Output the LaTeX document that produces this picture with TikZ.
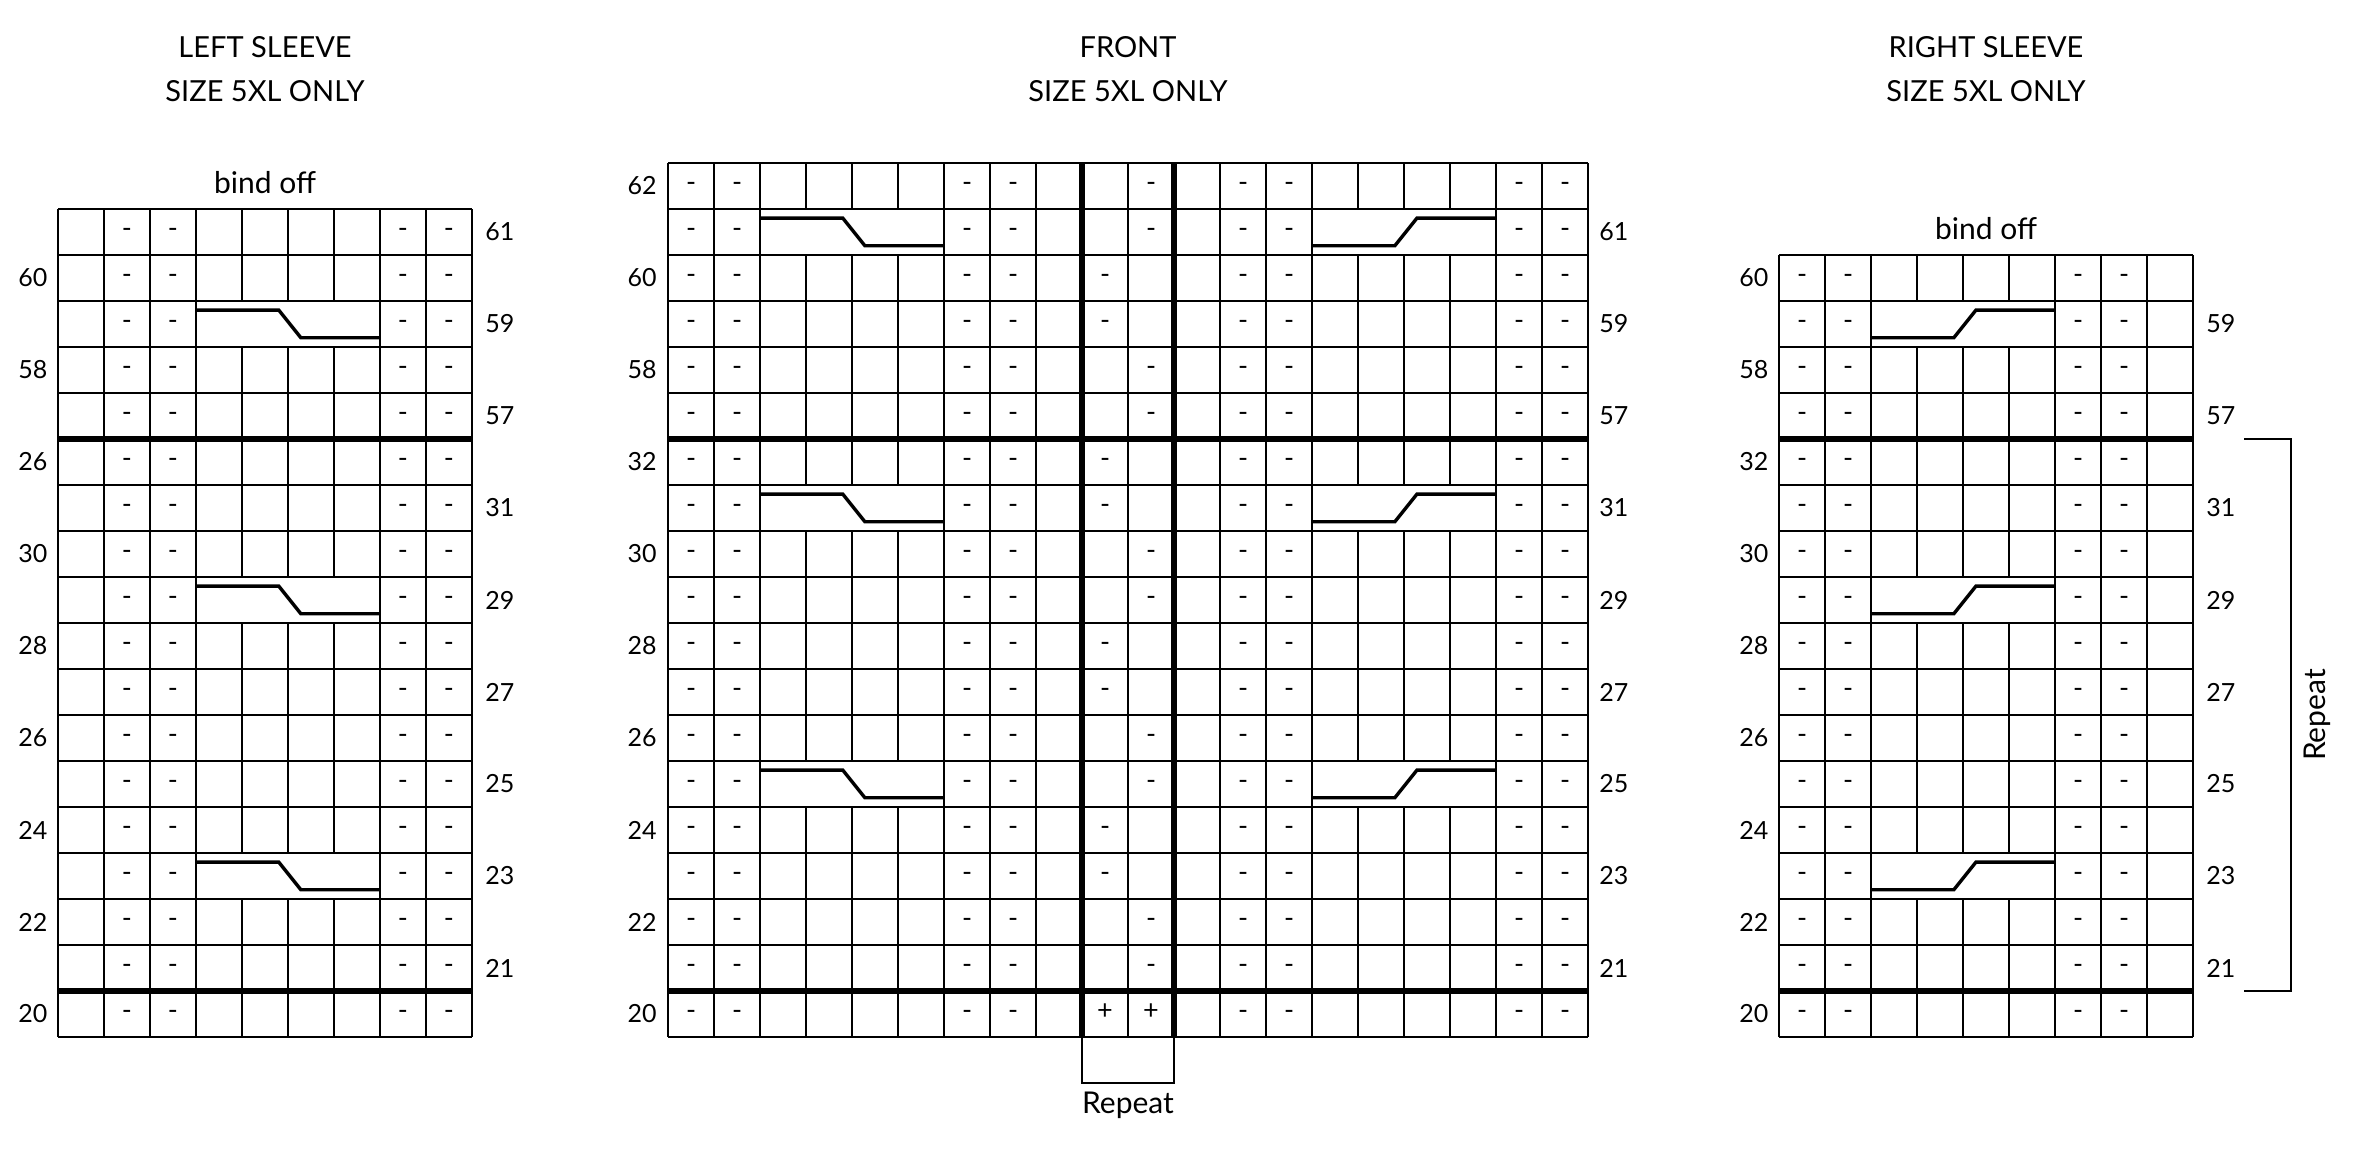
\documentclass[tikz,border=0pt]{standalone}
\usepackage{fontspec}
\setmainfont{Lato}
\usepackage{tikz}

\begin{document}
\begin{tikzpicture}[
  x=23pt,y=23pt,
  gridline/.style={line width=1.15pt,step=1},
  rule/.style={line width=2.7pt},
  cable/.style={line width=1.7pt,line join=miter},
  bracket/.style={line width=1.1pt},
  num/.style={font=\fontsize{12.5}{14}\selectfont,inner sep=0pt},
  sym/.style={font=\fontsize{13.5}{15}\selectfont,inner sep=0pt,anchor=mid},
  title/.style={font=\fontsize{14.5}{17}\selectfont,inner sep=0pt},
  note/.style={font=\fontsize{15}{17}\selectfont,inner sep=0pt}]
\useasboundingbox (0,0) rectangle (51.522,25.130);

% headings
\node[title] (ls-t1) at (5.761,24.115) {LEFT SLEEVE};
\node[title] (ls-t2) at (5.761,23.159) {SIZE 5XL ONLY};
\node[title] (fr-t1) at (24.522,24.115) {FRONT};
\node[title] (fr-t2) at (24.522,23.159) {SIZE 5XL ONLY};
\node[title] (rs-t1) at (43.174,24.115) {RIGHT SLEEVE};
\node[title] (rs-t2) at (43.174,23.159) {SIZE 5XL ONLY};

% left sleeve
\begin{scope}[shift={(1.261,2.587)}]
\draw[gridline] (0,0) grid (9,18);
\foreach \i in {3,9,15} {
  \fill[white] (3.03,\i+0.03) rectangle (6.97,\i+0.97);
  \draw[cable] (3,\i+0.8) -- (4.8,\i+0.8) -- (5.28,\i+0.2) -- (7,\i+0.2);
}
\draw[rule] (0,1) -- (9,1) (0,13) -- (9,13);
\foreach \i in {0,...,17} \foreach \c in {1,2,7,8}
  \node[sym] (ls-\c-\i) at (\c+0.5,\i+0.5) {-};
\foreach \n [count=\i from 0] in {20,21,22,23,24,25,26,27,28,29,30,31,26,57,58,59,60,61} {
  \ifodd\i\relax \node[num,anchor=west] (ls-r\i) at (9.28,\i+0.5) {\n};
  \else \node[num,anchor=east] (ls-l\i) at (-0.22,\i+0.5) {\n};
  \fi
}
\node[note] (ls-bind) at (4.5,18.57) {bind off};
\end{scope}

% front
\begin{scope}[shift={(14.522,2.587)}]
\draw[gridline] (0,0) grid (20,19);
\foreach \i in {5,11,17} {
  \fill[white] (2.03,\i+0.03) rectangle (5.97,\i+0.97);
  \draw[cable] (2,\i+0.8) -- (3.8,\i+0.8) -- (4.28,\i+0.2) -- (6,\i+0.2);
  \fill[white] (14.03,\i+0.03) rectangle (17.97,\i+0.97);
  \draw[cable] (14,\i+0.2) -- (15.8,\i+0.2) -- (16.28,\i+0.8) -- (18,\i+0.8);
}
\draw[rule] (0,1) -- (20,1) (0,13) -- (20,13) (9,0) -- (9,19) (11,0) -- (11,19);
\foreach \i in {0,...,18} \foreach \c in {0,1,6,7,12,13,18,19}
  \node[sym] (fr-\c-\i) at (\c+0.5,\i+0.5) {-};
\foreach \i in {1,...,18} {
  \pgfmathtruncatemacro\rc{10-mod(floor((\i-1)/2),2)}
  \node[sym] (fr-\rc-\i) at (\rc+0.5,\i+0.5) {-};
}
\node[sym] (fr-p9) at (9.5,0.5) {+};
\node[sym] (fr-p10) at (10.5,0.5) {+};
\foreach \n [count=\i from 0] in {20,21,22,23,24,25,26,27,28,29,30,31,32,57,58,59,60,61,62} {
  \ifodd\i\relax \node[num,anchor=west] (fr-r\i) at (20.24,\i+0.5) {\n};
  \else \node[num,anchor=east] (fr-l\i) at (-0.24,\i+0.5) {\n};
  \fi
}
\coordinate (fr-b1) at (9,0);
\coordinate (fr-b2) at (9,-1);
\coordinate (fr-b3) at (11,-1);
\coordinate (fr-b4) at (11,0);
\draw[bracket] (fr-b1) -- (fr-b2) -- (fr-b3) -- (fr-b4);
\node[note,anchor=base] (fr-rep) at (10,-1.66) {Repeat};
\end{scope}

% right sleeve
\begin{scope}[shift={(38.674,2.587)}]
\draw[gridline] (0,0) grid (9,17);
\foreach \i in {3,9,15} {
  \fill[white] (2.03,\i+0.03) rectangle (5.97,\i+0.97);
  \draw[cable] (2,\i+0.2) -- (3.8,\i+0.2) -- (4.28,\i+0.8) -- (6,\i+0.8);
}
\draw[rule] (0,1) -- (9,1) (0,13) -- (9,13);
\foreach \i in {0,...,16} \foreach \c in {0,1,6,7}
  \node[sym] (rs-\c-\i) at (\c+0.5,\i+0.5) {-};
\foreach \n [count=\i from 0] in {20,21,22,23,24,25,26,27,28,29,30,31,32,57,58,59,60} {
  \ifodd\i\relax \node[num,anchor=west] (rs-r\i) at (9.28,\i+0.5) {\n};
  \else \node[num,anchor=east] (rs-l\i) at (-0.22,\i+0.5) {\n};
  \fi
}
\node[note] (rs-bind) at (4.5,17.57) {bind off};
\coordinate (rs-b1) at (10.11,13);
\coordinate (rs-b2) at (11.13,13);
\coordinate (rs-b3) at (11.13,1);
\coordinate (rs-b4) at (10.11,1);
\draw[bracket] (rs-b1) -- (rs-b2) -- (rs-b3) -- (rs-b4);
\node[note,rotate=90,anchor=base] (rs-rep) at (11.87,7) {Repeat};
\end{scope}
\end{tikzpicture}
\end{document}
